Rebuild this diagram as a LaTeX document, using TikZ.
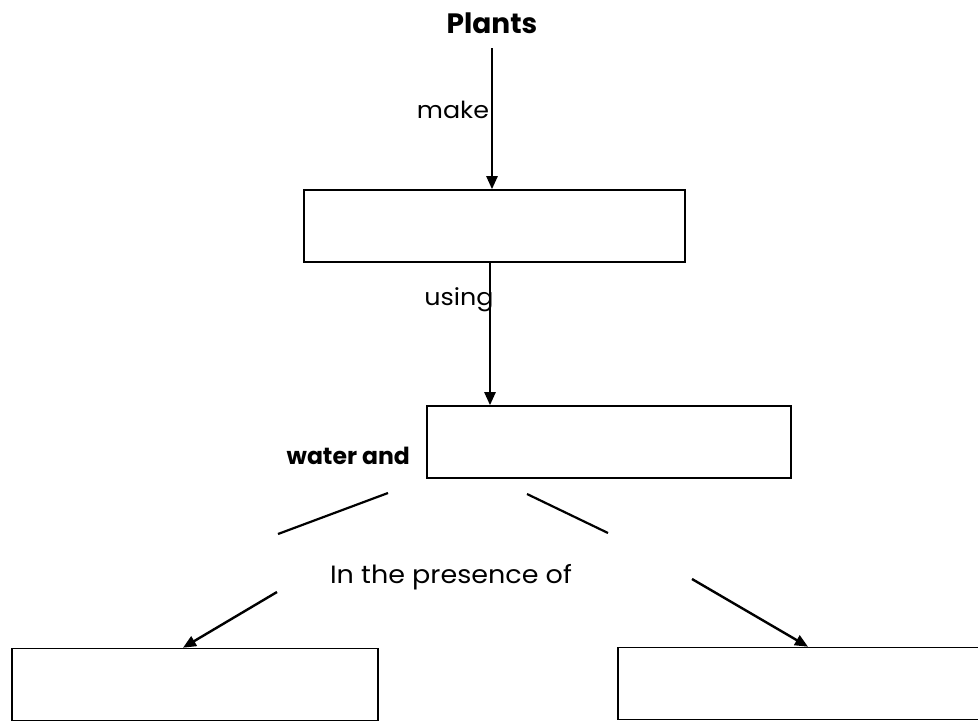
\documentclass[tikz,border=0pt]{standalone}
\usepackage{fontspec}
\setmainfont{Poppins}
\newfontfamily\lblfont{Poppins}[FakeStretch=1.08]
\usetikzlibrary{arrows.meta}
\begin{document}
\begin{tikzpicture}[x=1pt,y=-1pt,
  box/.style={draw,line width=1.6pt,minimum width=#1,minimum height=72pt,inner sep=0pt},
  lbl/.style={font=\lblfont\fontsize{23.5}{26}\selectfont,inner sep=0pt},
  blbl/.style={font=\fontsize{#1}{28}\selectfont\bfseries,inner sep=0pt},
  arr/.style={line width=2.4pt,-{Triangle[length=13pt,width=11pt]}},
  ln/.style={line width=2.2pt}]
\useasboundingbox (0,0) rectangle (978,721);
\fill[white] (0,0) rectangle (978,721);
\node[blbl=28] (plants) at (492,23) {Plants};
\node[box=381pt] (b1) at (494.5,226) {};
\node[lbl] (make) at (453,110) {make};
\node[box=364pt] (b2) at (609,442) {};
\node[lbl] (using) at (459,300) {using};
\node[blbl=23.5,anchor=east] (water) at (410,456) {water and};
\node[box=366pt] (b3) at (195,684.5) {};
\node[box=362pt] (b4) at (799,683.5) {};
\node[lbl,font=\lblfont\fontsize{25}{28}\selectfont] (pres) at (451,577) {In the presence of};
\coordinate (a1s) at (492,48);
\coordinate (a2s) at (490,263);
\coordinate (a3s) at (277,592);
\coordinate (a4s) at (692,579);
\coordinate (a3e) at (183,648);
\coordinate (a4e) at (808,646);
\draw[arr] (a1s) -- (a1s |- b1.north);
\draw[arr] (a2s) -- (a2s |- b2.north);
\coordinate (l1a) at (388,493);
\coordinate (l1b) at (278,534);
\coordinate (l2a) at (527,494);
\coordinate (l2b) at (608,533);
\draw[ln] (l1a) -- (l1b);
\draw[ln] (l2a) -- (l2b);
\draw[arr] (a3s) -- (a3e |- b3.north);
\draw[arr] (a4s) -- (a4e |- b4.north);
\end{tikzpicture}
\end{document}
